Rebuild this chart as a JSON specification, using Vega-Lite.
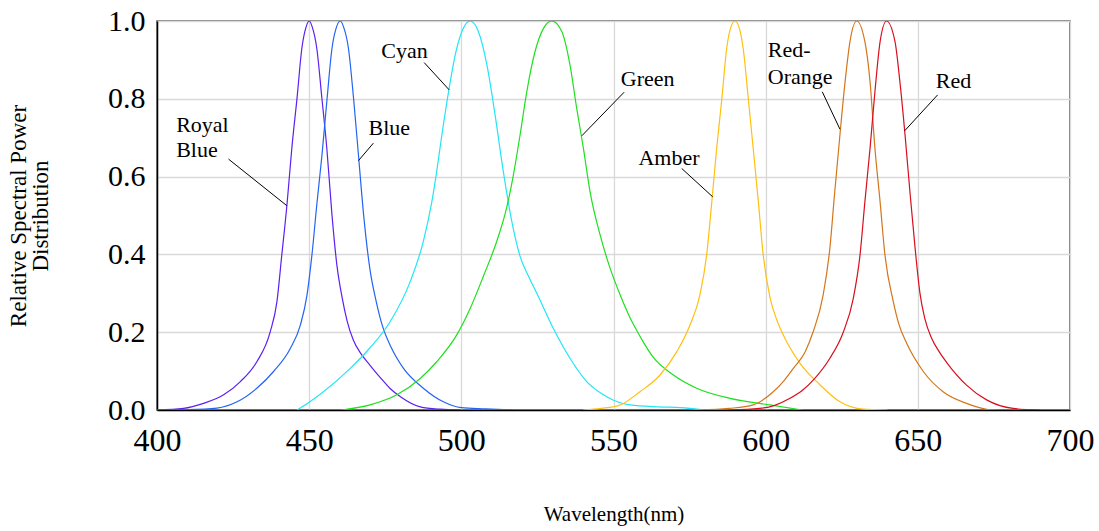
{
  "$schema": "https://vega.github.io/schema/vega-lite/v6.json",
  "width": 913,
  "height": 389,
  "autosize": {"type": "none"},
  "padding": {"left": 157, "top": 21, "right": 29, "bottom": 121},
  "background": "white",
  "config": {"view": {"stroke": "#555555", "strokeWidth": 1.5}, "font": "Liberation Serif"},
  "datasets": {
    "curves": [
      {"s": "Royal Blue", "nm": 400, "v": 0}, {"s": "Royal Blue", "nm": 408.7, "v": 0.004}, {"s": "Royal Blue", "nm": 415.3, "v": 0.017}, {"s": "Royal Blue", "nm": 421.9, "v": 0.039}, {"s": "Royal Blue", "nm": 427.4, "v": 0.073}, {"s": "Royal Blue", "nm": 432.8, "v": 0.124}, {"s": "Royal Blue", "nm": 437.2, "v": 0.201}, {"s": "Royal Blue", "nm": 439.4, "v": 0.278}, {"s": "Royal Blue", "nm": 441, "v": 0.398}, {"s": "Royal Blue", "nm": 442.7, "v": 0.527}, {"s": "Royal Blue", "nm": 444.3, "v": 0.673}, {"s": "Royal Blue", "nm": 446, "v": 0.801}, {"s": "Royal Blue", "nm": 447.6, "v": 0.93}, {"s": "Royal Blue", "nm": 449, "v": 0.985}, {"s": "Royal Blue", "nm": 450, "v": 1.0}, {"s": "Royal Blue", "nm": 451, "v": 0.985}, {"s": "Royal Blue", "nm": 452.5, "v": 0.93}, {"s": "Royal Blue", "nm": 454.2, "v": 0.8}, {"s": "Royal Blue", "nm": 455.8, "v": 0.673}, {"s": "Royal Blue", "nm": 457.5, "v": 0.501}, {"s": "Royal Blue", "nm": 459.1, "v": 0.373}, {"s": "Royal Blue", "nm": 460.8, "v": 0.29}, {"s": "Royal Blue", "nm": 462.5, "v": 0.228}, {"s": "Royal Blue", "nm": 464.5, "v": 0.18}, {"s": "Royal Blue", "nm": 467, "v": 0.145}, {"s": "Royal Blue", "nm": 470, "v": 0.115}, {"s": "Royal Blue", "nm": 473.3, "v": 0.084}, {"s": "Royal Blue", "nm": 476.5, "v": 0.056}, {"s": "Royal Blue", "nm": 480, "v": 0.034}, {"s": "Royal Blue", "nm": 486.5, "v": 0.008}, {"s": "Royal Blue", "nm": 493, "v": 0.002}, {"s": "Royal Blue", "nm": 500, "v": 0},
      {"s": "Blue", "nm": 400, "v": 0}, {"s": "Blue", "nm": 410, "v": 0.001}, {"s": "Blue", "nm": 419.7, "v": 0.005}, {"s": "Blue", "nm": 426.3, "v": 0.021}, {"s": "Blue", "nm": 432.8, "v": 0.056}, {"s": "Blue", "nm": 438.3, "v": 0.099}, {"s": "Blue", "nm": 443.8, "v": 0.158}, {"s": "Blue", "nm": 447.1, "v": 0.218}, {"s": "Blue", "nm": 449.3, "v": 0.296}, {"s": "Blue", "nm": 450.9, "v": 0.398}, {"s": "Blue", "nm": 452.5, "v": 0.527}, {"s": "Blue", "nm": 454.2, "v": 0.655}, {"s": "Blue", "nm": 455.8, "v": 0.793}, {"s": "Blue", "nm": 457.5, "v": 0.93}, {"s": "Blue", "nm": 459, "v": 0.985}, {"s": "Blue", "nm": 460.2, "v": 1.0}, {"s": "Blue", "nm": 461.3, "v": 0.985}, {"s": "Blue", "nm": 462.9, "v": 0.93}, {"s": "Blue", "nm": 464.6, "v": 0.8}, {"s": "Blue", "nm": 466.2, "v": 0.655}, {"s": "Blue", "nm": 467.9, "v": 0.501}, {"s": "Blue", "nm": 470, "v": 0.36}, {"s": "Blue", "nm": 472, "v": 0.28}, {"s": "Blue", "nm": 474, "v": 0.218}, {"s": "Blue", "nm": 477, "v": 0.16}, {"s": "Blue", "nm": 481, "v": 0.107}, {"s": "Blue", "nm": 487.5, "v": 0.056}, {"s": "Blue", "nm": 494.1, "v": 0.021}, {"s": "Blue", "nm": 500, "v": 0.006}, {"s": "Blue", "nm": 508, "v": 0.003}, {"s": "Blue", "nm": 517, "v": 0},
      {"s": "Cyan", "nm": 446, "v": 0}, {"s": "Cyan", "nm": 450, "v": 0.02}, {"s": "Cyan", "nm": 454.7, "v": 0.047}, {"s": "Cyan", "nm": 463.5, "v": 0.107}, {"s": "Cyan", "nm": 470, "v": 0.16}, {"s": "Cyan", "nm": 476.6, "v": 0.227}, {"s": "Cyan", "nm": 483.2, "v": 0.33}, {"s": "Cyan", "nm": 487.5, "v": 0.433}, {"s": "Cyan", "nm": 490.3, "v": 0.535}, {"s": "Cyan", "nm": 491.9, "v": 0.613}, {"s": "Cyan", "nm": 493.6, "v": 0.707}, {"s": "Cyan", "nm": 495.8, "v": 0.818}, {"s": "Cyan", "nm": 498, "v": 0.913}, {"s": "Cyan", "nm": 500.2, "v": 0.973}, {"s": "Cyan", "nm": 502.9, "v": 1.0}, {"s": "Cyan", "nm": 505.6, "v": 0.973}, {"s": "Cyan", "nm": 508.4, "v": 0.887}, {"s": "Cyan", "nm": 511.1, "v": 0.758}, {"s": "Cyan", "nm": 513.8, "v": 0.613}, {"s": "Cyan", "nm": 516.6, "v": 0.484}, {"s": "Cyan", "nm": 519.3, "v": 0.395}, {"s": "Cyan", "nm": 522, "v": 0.345}, {"s": "Cyan", "nm": 524.8, "v": 0.3}, {"s": "Cyan", "nm": 530.2, "v": 0.21}, {"s": "Cyan", "nm": 535.7, "v": 0.133}, {"s": "Cyan", "nm": 541.2, "v": 0.073}, {"s": "Cyan", "nm": 546.7, "v": 0.039}, {"s": "Cyan", "nm": 550, "v": 0.025}, {"s": "Cyan", "nm": 555.4, "v": 0.013}, {"s": "Cyan", "nm": 565, "v": 0.008}, {"s": "Cyan", "nm": 572, "v": 0.006}, {"s": "Cyan", "nm": 580, "v": 0},
      {"s": "Green", "nm": 460.7, "v": 0}, {"s": "Green", "nm": 470, "v": 0.013}, {"s": "Green", "nm": 478.8, "v": 0.039}, {"s": "Green", "nm": 486.5, "v": 0.081}, {"s": "Green", "nm": 491.9, "v": 0.124}, {"s": "Green", "nm": 498.5, "v": 0.193}, {"s": "Green", "nm": 502.9, "v": 0.261}, {"s": "Green", "nm": 507.3, "v": 0.345}, {"s": "Green", "nm": 511.7, "v": 0.435}, {"s": "Green", "nm": 514.9, "v": 0.52}, {"s": "Green", "nm": 517.1, "v": 0.604}, {"s": "Green", "nm": 519.3, "v": 0.707}, {"s": "Green", "nm": 521.5, "v": 0.818}, {"s": "Green", "nm": 524.2, "v": 0.921}, {"s": "Green", "nm": 527, "v": 0.981}, {"s": "Green", "nm": 529.7, "v": 1.0}, {"s": "Green", "nm": 533, "v": 0.973}, {"s": "Green", "nm": 535.7, "v": 0.887}, {"s": "Green", "nm": 537.9, "v": 0.776}, {"s": "Green", "nm": 540.1, "v": 0.673}, {"s": "Green", "nm": 542.3, "v": 0.561}, {"s": "Green", "nm": 545.6, "v": 0.45}, {"s": "Green", "nm": 548.9, "v": 0.364}, {"s": "Green", "nm": 552.5, "v": 0.29}, {"s": "Green", "nm": 555.4, "v": 0.238}, {"s": "Green", "nm": 557.6, "v": 0.205}, {"s": "Green", "nm": 560, "v": 0.172}, {"s": "Green", "nm": 563.1, "v": 0.135}, {"s": "Green", "nm": 569.7, "v": 0.09}, {"s": "Green", "nm": 577.3, "v": 0.056}, {"s": "Green", "nm": 588.3, "v": 0.03}, {"s": "Green", "nm": 601.4, "v": 0.013}, {"s": "Green", "nm": 612, "v": 0},
      {"s": "Amber", "nm": 540, "v": 0}, {"s": "Amber", "nm": 546, "v": 0.004}, {"s": "Amber", "nm": 552.2, "v": 0.013}, {"s": "Amber", "nm": 558.7, "v": 0.047}, {"s": "Amber", "nm": 565.3, "v": 0.09}, {"s": "Amber", "nm": 570.8, "v": 0.15}, {"s": "Amber", "nm": 575.1, "v": 0.218}, {"s": "Amber", "nm": 578.4, "v": 0.296}, {"s": "Amber", "nm": 580.6, "v": 0.398}, {"s": "Amber", "nm": 582.3, "v": 0.535}, {"s": "Amber", "nm": 583.9, "v": 0.673}, {"s": "Amber", "nm": 585.6, "v": 0.8}, {"s": "Amber", "nm": 587.2, "v": 0.93}, {"s": "Amber", "nm": 588.6, "v": 0.985}, {"s": "Amber", "nm": 589.9, "v": 1.0}, {"s": "Amber", "nm": 591.2, "v": 0.985}, {"s": "Amber", "nm": 592.6, "v": 0.93}, {"s": "Amber", "nm": 594.3, "v": 0.8}, {"s": "Amber", "nm": 595.9, "v": 0.673}, {"s": "Amber", "nm": 597.6, "v": 0.535}, {"s": "Amber", "nm": 599.2, "v": 0.398}, {"s": "Amber", "nm": 601.4, "v": 0.29}, {"s": "Amber", "nm": 603.5, "v": 0.235}, {"s": "Amber", "nm": 605.8, "v": 0.193}, {"s": "Amber", "nm": 611.3, "v": 0.12}, {"s": "Amber", "nm": 617.8, "v": 0.065}, {"s": "Amber", "nm": 624.4, "v": 0.021}, {"s": "Amber", "nm": 632, "v": 0.002}, {"s": "Amber", "nm": 640, "v": 0},
      {"s": "Red-Orange", "nm": 578, "v": 0}, {"s": "Red-Orange", "nm": 588, "v": 0.004}, {"s": "Red-Orange", "nm": 595.9, "v": 0.013}, {"s": "Red-Orange", "nm": 602.5, "v": 0.047}, {"s": "Red-Orange", "nm": 606, "v": 0.075}, {"s": "Red-Orange", "nm": 609.1, "v": 0.107}, {"s": "Red-Orange", "nm": 613, "v": 0.15}, {"s": "Red-Orange", "nm": 615.6, "v": 0.201}, {"s": "Red-Orange", "nm": 618.9, "v": 0.296}, {"s": "Red-Orange", "nm": 621.1, "v": 0.416}, {"s": "Red-Orange", "nm": 622.7, "v": 0.561}, {"s": "Red-Orange", "nm": 624.4, "v": 0.707}, {"s": "Red-Orange", "nm": 626.1, "v": 0.844}, {"s": "Red-Orange", "nm": 627.7, "v": 0.947}, {"s": "Red-Orange", "nm": 629.9, "v": 1.0}, {"s": "Red-Orange", "nm": 632.6, "v": 0.947}, {"s": "Red-Orange", "nm": 634.3, "v": 0.844}, {"s": "Red-Orange", "nm": 635.9, "v": 0.673}, {"s": "Red-Orange", "nm": 637.6, "v": 0.535}, {"s": "Red-Orange", "nm": 639.2, "v": 0.398}, {"s": "Red-Orange", "nm": 641.9, "v": 0.28}, {"s": "Red-Orange", "nm": 643.8, "v": 0.22}, {"s": "Red-Orange", "nm": 646.3, "v": 0.172}, {"s": "Red-Orange", "nm": 651.8, "v": 0.099}, {"s": "Red-Orange", "nm": 658.3, "v": 0.047}, {"s": "Red-Orange", "nm": 666, "v": 0.017}, {"s": "Red-Orange", "nm": 672.6, "v": 0.002}, {"s": "Red-Orange", "nm": 676, "v": 0},
      {"s": "Red", "nm": 588, "v": 0}, {"s": "Red", "nm": 598, "v": 0.004}, {"s": "Red", "nm": 603, "v": 0.012}, {"s": "Red", "nm": 608, "v": 0.03}, {"s": "Red", "nm": 612, "v": 0.05}, {"s": "Red", "nm": 616, "v": 0.08}, {"s": "Red", "nm": 621.1, "v": 0.133}, {"s": "Red", "nm": 625.5, "v": 0.2}, {"s": "Red", "nm": 628.8, "v": 0.287}, {"s": "Red", "nm": 631, "v": 0.398}, {"s": "Red", "nm": 632.6, "v": 0.535}, {"s": "Red", "nm": 634.3, "v": 0.673}, {"s": "Red", "nm": 635.9, "v": 0.818}, {"s": "Red", "nm": 637.6, "v": 0.947}, {"s": "Red", "nm": 639.7, "v": 1.0}, {"s": "Red", "nm": 642.5, "v": 0.947}, {"s": "Red", "nm": 644.1, "v": 0.844}, {"s": "Red", "nm": 645.8, "v": 0.707}, {"s": "Red", "nm": 647.4, "v": 0.561}, {"s": "Red", "nm": 649.1, "v": 0.416}, {"s": "Red", "nm": 650.7, "v": 0.3}, {"s": "Red", "nm": 652.3, "v": 0.235}, {"s": "Red", "nm": 654.5, "v": 0.185}, {"s": "Red", "nm": 657, "v": 0.15}, {"s": "Red", "nm": 659.5, "v": 0.122}, {"s": "Red", "nm": 666, "v": 0.064}, {"s": "Red", "nm": 672.6, "v": 0.026}, {"s": "Red", "nm": 681.3, "v": 0.004}, {"s": "Red", "nm": 690, "v": 0}
    ],
    "leaders": [
      {"s": "Royal Blue", "x1": 423.5, "y1": 0.645, "x2": 442.7, "y2": 0.525},
      {"s": "Blue", "x1": 471.1, "y1": 0.686, "x2": 466.2, "y2": 0.641},
      {"s": "Cyan", "x1": 487.8, "y1": 0.893, "x2": 496.0, "y2": 0.823},
      {"s": "Green", "x1": 553.5, "y1": 0.817, "x2": 539.6, "y2": 0.705},
      {"s": "Amber", "x1": 572.4, "y1": 0.621, "x2": 582.6, "y2": 0.548},
      {"s": "Red-Orange", "x1": 618.6, "y1": 0.818, "x2": 624.4, "y2": 0.722},
      {"s": "Red", "x1": 656.5, "y1": 0.81, "x2": 645.7, "y2": 0.718}
    ],
    "labels": [
      {"label": "Royal", "nm": 406.3, "v": 0.733},
      {"label": "Blue", "nm": 406.3, "v": 0.668},
      {"label": "Blue", "nm": 469.5, "v": 0.726},
      {"label": "Cyan", "nm": 473.7, "v": 0.923},
      {"label": "Green", "nm": 552.4, "v": 0.852},
      {"label": "Amber", "nm": 558.2, "v": 0.647},
      {"label": "Red-", "nm": 600.7, "v": 0.925},
      {"label": "Orange", "nm": 600.7, "v": 0.855},
      {"label": "Red", "nm": 655.9, "v": 0.845}
    ]
  },
  "layer": [
    {
      "data": {"name": "curves"},
      "mark": {"type": "line", "interpolate": "monotone", "strokeWidth": 1.2, "clip": true},
      "encoding": {
        "x": {
          "field": "nm", "type": "quantitative",
          "scale": {"domain": [400, 700], "nice": false, "zero": false},
          "axis": {
            "values": [400, 450, 500, 550, 600, 650, 700], "format": "d", "ticks": false,
            "labelFontSize": 32, "labelPadding": 15, "labelColor": "black", "labelFlush": false,
            "domainColor": "black", "domainWidth": 1.5,
            "grid": true, "gridColor": "#d9d9d9", "gridWidth": 1.3,
            "title": "Wavelength(nm)", "titleFontSize": 21, "titleFontWeight": "normal", "titleColor": "black",
            "titleY": 110, "titleBaseline": "alphabetic"
          }
        },
        "y": {
          "field": "v", "type": "quantitative",
          "scale": {"domain": [0, 1], "nice": false},
          "axis": {
            "values": [0, 0.2, 0.4, 0.6, 0.8, 1.0], "format": ".1f", "ticks": false,
            "labelFontSize": 30, "labelPadding": 12, "labelColor": "black",
            "domainColor": "black", "domainWidth": 1.5,
            "grid": true, "gridColor": "#d9d9d9", "gridWidth": 1.3,
            "title": ["Relative Spectral Power", "Distribution"], "titleFontSize": 23, "titleFontWeight": "normal",
            "titleColor": "black", "titleLineHeight": 22, "titleX": -127, "titleBaseline": "bottom"
          }
        },
        "color": {
          "field": "s", "type": "nominal",
          "scale": {
            "domain": ["Royal Blue", "Blue", "Cyan", "Green", "Amber", "Red-Orange", "Red"],
            "range": ["#5c20f0", "#2464f4", "#22e6f6", "#1ee01e", "#ffc010", "#d4761a", "#d6101e"]
          },
          "legend": null
        }
      }
    },
    {
      "data": {"name": "leaders"},
      "mark": {"type": "rule", "color": "black", "strokeWidth": 1},
      "encoding": {
        "x": {"field": "x1", "type": "quantitative"},
        "y": {"field": "y1", "type": "quantitative"},
        "x2": {"field": "x2"},
        "y2": {"field": "y2"}
      }
    },
    {
      "data": {"name": "labels"},
      "mark": {"type": "text", "align": "left", "baseline": "middle", "fontSize": 22, "font": "Liberation Serif", "color": "black"},
      "encoding": {
        "x": {"field": "nm", "type": "quantitative"},
        "y": {"field": "v", "type": "quantitative"},
        "text": {"field": "label"}
      }
    }
  ]
}
